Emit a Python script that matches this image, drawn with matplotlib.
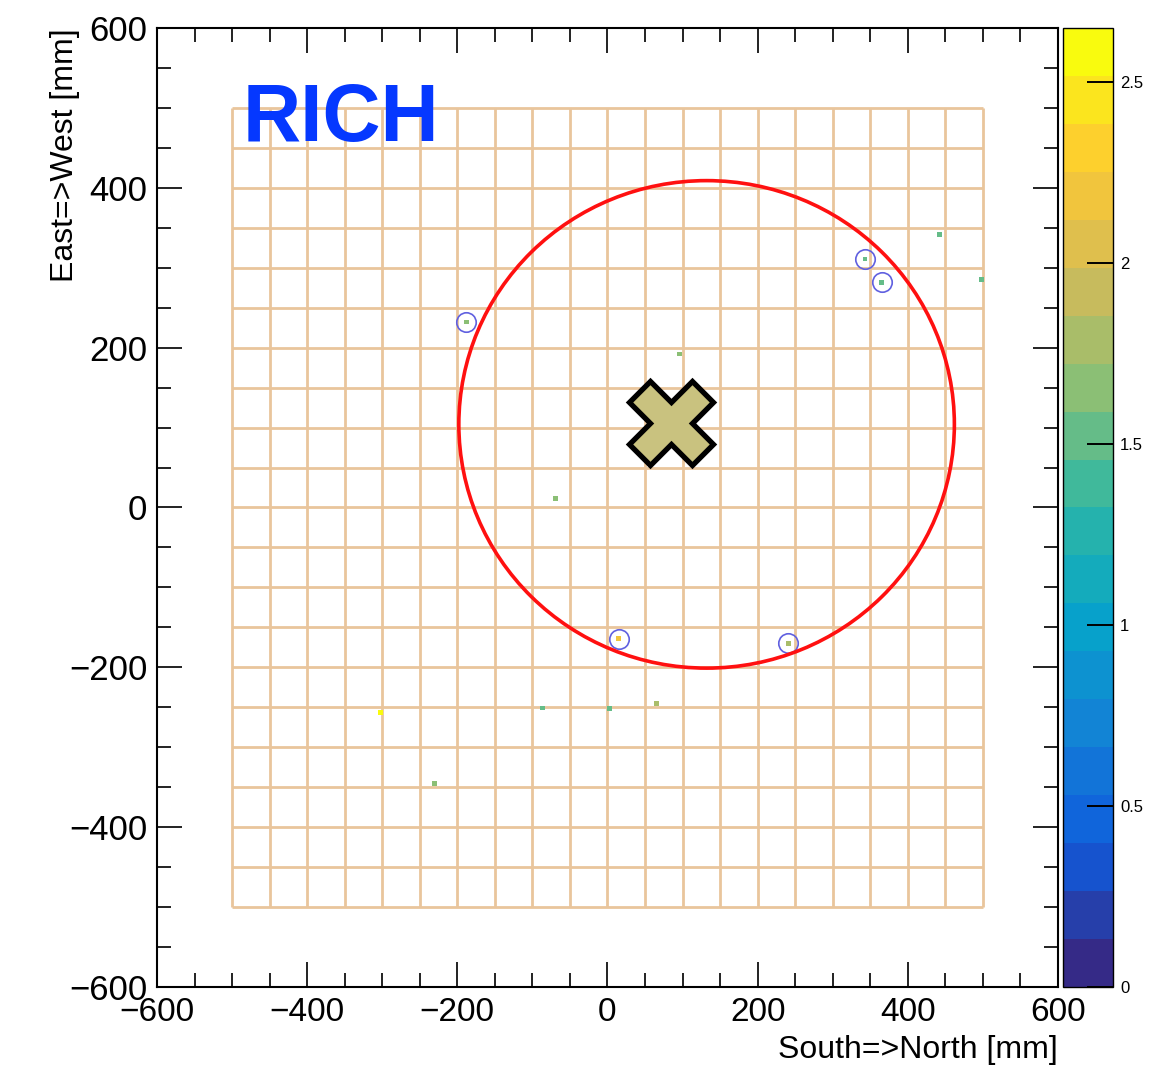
import numpy as np
import matplotlib
matplotlib.use("Agg")
import matplotlib.pyplot as plt
from matplotlib.colors import LinearSegmentedColormap, BoundaryNorm
from matplotlib.patches import Ellipse
from matplotlib.cm import ScalarMappable
from matplotlib.ticker import MultipleLocator, FuncFormatter

plt.rcParams["font.family"] = ["Liberation Sans", "DejaVu Sans"]

# hits on the photon detector (x, y in mm, charge)
hit_x = [-188, 343, 365, 15, 241, 442, 498, 96, -69, -302, -230, -87, 3, 65]
hit_y = [232, 311, 282, -164, -170, 342, 285, 192, 11, -257, -345, -251, -252, -245]
hit_q = [1.6, 1.55, 1.5, 2.15, 1.75, 1.5, 1.5, 1.6, 1.6, 2.6, 1.6, 1.5, 1.5, 1.85]

# hits matched to the ring
ring_hit_x = [-188, 343, 365, 15, 241]
ring_hit_y = [232, 311, 282, -164, -170]

# fitted ring
ring_cx, ring_cy = 132, 104
ring_rx, ring_ry = 330, 305

# predicted track position
track_x, track_y = 85, 106

z_max = 2.65
n_levels = 20
cbar_ticks = [0, 0.5, 1, 1.5, 2, 2.5]

# ROOT kBird palette
bird_r = [0.2082, 0.0592, 0.0780, 0.0232, 0.1802, 0.5301, 0.8186, 0.9956, 0.9764]
bird_g = [0.1664, 0.3599, 0.5041, 0.6419, 0.7178, 0.7492, 0.7328, 0.7862, 0.9832]
bird_b = [0.5293, 0.8684, 0.8385, 0.7914, 0.6425, 0.4662, 0.3499, 0.1968, 0.0539]
stops = np.linspace(0, 1, len(bird_r))
bird = LinearSegmentedColormap.from_list(
    "bird", list(zip(stops, zip(bird_r, bird_g, bird_b))), N=256)
norm = BoundaryNorm(np.linspace(0, z_max, n_levels + 1), bird.N)

fig = plt.figure(figsize=(11.63, 10.72), dpi=100)
ax = fig.add_axes([0.135, 0.0793, 0.7747, 0.8946])
cax = fig.add_axes([0.914, 0.0793, 0.043, 0.8946])

# PMT grid
grid = np.arange(-500, 501, 50)
ax.vlines(grid, -500, 500, color="#E9C59C", lw=2, zorder=1)
ax.hlines(grid, -500, 500, color="#E9C59C", lw=2, zorder=1)

ax.scatter(hit_x, hit_y, c=hit_q, cmap=bird, norm=norm, marker="s", s=12,
           linewidths=0, zorder=3)
ax.plot(ring_hit_x, ring_hit_y, "o", ms=14, mfc="none", mec="#6060E0",
        mew=1.2, zorder=4)

ax.add_patch(Ellipse((ring_cx, ring_cy), 2 * ring_rx, 2 * ring_ry,
                     fill=False, ec="#FF1010", lw=2.6, zorder=5))

ax.plot(track_x, track_y, "X", ms=61, mfc="#C9C27F", mec="black", mew=3.8,
        zorder=6)

ax.text(-486, 459, "RICH", color="#0538FF", fontsize=58, fontweight="bold",
        ha="left", va="baseline", zorder=7)

ax.set_xlim(-600, 600)
ax.set_ylim(-600, 600)
ax.xaxis.set_major_locator(MultipleLocator(200))
ax.yaxis.set_major_locator(MultipleLocator(200))
ax.xaxis.set_minor_locator(MultipleLocator(50))
ax.yaxis.set_minor_locator(MultipleLocator(50))
ax.tick_params(which="both", direction="in", top=True, right=True, width=1.4,
               color="#222222")
ax.tick_params(which="major", length=18, pad=7)
ax.tick_params(which="minor", length=10)
ax.tick_params(axis="x", labelsize=24)
ax.tick_params(axis="y", labelsize=25)
for s in ax.spines.values():
    s.set_linewidth(1.5)

fig.text(65 / 1163, 1 - 28 / 1072, "East=>West [mm]", rotation=90,
         ha="center", va="top", fontsize=23)
fig.text(1058 / 1163, 1 - 1050 / 1072, "South=>North [mm]",
         ha="right", va="center", fontsize=23)

cb = fig.colorbar(ScalarMappable(norm=norm, cmap=bird), cax=cax)
cb.set_ticks(cbar_ticks)
cb.ax.yaxis.set_major_formatter(FuncFormatter(lambda v, p: f"{v:g}"))
cb.ax.tick_params(direction="in", length=19, width=1.4, labelsize=12, pad=5)
cb.ax.minorticks_off()
cb.outline.set_linewidth(1.0)

fig.savefig("out.png", dpi=100)
